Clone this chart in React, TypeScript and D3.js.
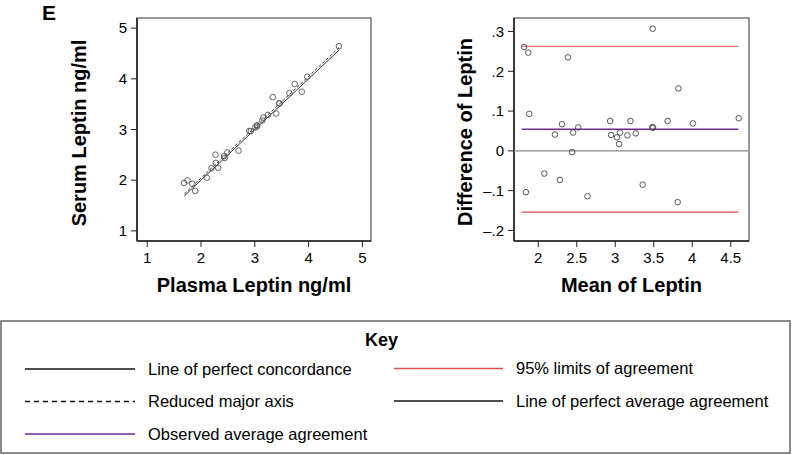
import React from "react";
import * as d3 from "d3";

// Data (plasma vs serum leptin, ng/ml)
const plasma = [1.685, 1.747, 1.892, 1.837, 2.107, 2.196, 2.318, 2.274, 2.268, 2.442, 2.43, 2.489, 2.697, 2.896, 2.926, 3.006, 3.042, 3.039, 3.139, 3.16, 3.244, 3.399, 3.333, 3.452, 3.461, 3.643, 3.741, 3.875, 3.974, 4.563];
const serum = [1.946, 1.994, 1.788, 1.93, 2.05, 2.237, 2.245, 2.341, 2.503, 2.439, 2.476, 2.548, 2.583, 2.971, 2.966, 3.04, 3.059, 3.085, 3.178, 3.235, 3.288, 3.314, 3.64, 3.512, 3.519, 3.718, 3.898, 3.746, 4.043, 4.645];

const leftXTicks = [1, 2, 3, 4, 5];
const leftYTicks = [1, 2, 3, 4, 5];
const rightXTicks = [2, 2.5, 3, 3.5, 4, 4.5];
const rightYTicks = [-0.2, -0.1, 0, 0.1, 0.2, 0.3];

// Reference lines
const concordanceLine = [[1.69, 1.69], [4.57, 4.57]];
const rmaLine = [[1.69, 1.73], [4.57, 4.62]];
const meanDiff = 0.0545;
const upperLimit = 0.263;
const lowerLimit = -0.154;
const limitsXRange = [1.785, 4.6];

const legendLeft = ["Line of perfect concordance", "Reduced major axis", "Observed average agreement"];
const legendRight = ["95% limits of agreement", "Line of perfect average agreement"];

const RED = "#e2504f";
const PURPLE = "#74299a";
const FONT = "'Liberation Sans', Arial, sans-serif";

function fmtDiff(v: number) {
  if (Math.abs(v) < 1e-9) return "0";
  const s = Math.abs(v).toFixed(1).replace(/^0/, "");
  return (v < 0 ? "\u2013" : "") + s;
}

export default function App() {
  const means = plasma.map((p, i) => (p + serum[i]) / 2);
  const diffs = plasma.map((p, i) => serum[i] - p);

  // Left panel
  const L = { left: 137, right: 371, top: 18, bottom: 241 };
  const lx = d3.scaleLinear().domain([0.81, 5.16]).range([L.left, L.right]);
  const ly = d3.scaleLinear().domain([0.8, 5.2]).range([L.bottom, L.top]);
  const line = d3.line<number[]>().x((d) => lx(d[0])).y((d) => ly(d[1]));

  // Right panel
  const R = { left: 514, right: 749, top: 18, bottom: 241 };
  const rx = d3.scaleLinear().domain([1.685, 4.737]).range([R.left, R.right]);
  const ry = d3.scaleLinear().domain([-0.2266, 0.334]).range([R.bottom, R.top]);

  const axisColor = "#222";

  return (
    <svg width={792} height={455} style={{ position: "absolute", left: 0, top: 0, background: "#fff" }} fontFamily={FONT}>
      <rect width={792} height={455} fill="#fff" />
      <text x={42} y={19.5} fontSize={21} fontWeight="bold">E</text>

      {/* Left panel */}
      <rect x={L.left} y={L.top} width={L.right - L.left} height={L.bottom - L.top} fill="none" stroke="#333" strokeWidth={1} />
      <line x1={L.left} x2={L.left} y1={L.top} y2={L.bottom} stroke={axisColor} strokeWidth={1.6} />
      <line x1={L.left} x2={L.right} y1={L.bottom} y2={L.bottom} stroke={axisColor} strokeWidth={1.6} />
      {leftXTicks.map((t) => (
        <g key={"lx" + t}>
          <line x1={lx(t)} x2={lx(t)} y1={L.bottom} y2={L.bottom + 6} stroke={axisColor} />
          <text x={lx(t)} y={263} fontSize={15} textAnchor="middle">{t}</text>
        </g>
      ))}
      {leftYTicks.map((t) => (
        <g key={"ly" + t}>
          <line x1={L.left - 6} x2={L.left} y1={ly(t)} y2={ly(t)} stroke={axisColor} />
          <text x={127} y={ly(t) + 5.3} fontSize={15} textAnchor="end">{t}</text>
        </g>
      ))}
      <path d={line(concordanceLine) || ""} stroke="#333" strokeWidth={1} fill="none" />
      <path d={line(rmaLine) || ""} stroke="#333" strokeWidth={1} strokeDasharray="3,2" fill="none" />
      {plasma.map((p, i) => (
        <circle key={"lp" + i} cx={lx(p)} cy={ly(serum[i])} r={2.8} fill="none" stroke="#555" strokeWidth={0.9} />
      ))}
      <text x={(L.left + L.right) / 2} y={292} fontSize={20} fontWeight="bold" textAnchor="middle">Plasma Leptin ng/ml</text>
      <text transform="translate(86,133) rotate(-90)" fontSize={20} fontWeight="bold" textAnchor="middle">Serum Leptin ng/ml</text>

      {/* Right panel */}
      <rect x={R.left} y={R.top} width={R.right - R.left} height={R.bottom - R.top} fill="none" stroke="#333" strokeWidth={1} />
      <line x1={R.left} x2={R.left} y1={R.top} y2={R.bottom} stroke={axisColor} strokeWidth={1.6} />
      <line x1={R.left} x2={R.right} y1={R.bottom} y2={R.bottom} stroke={axisColor} strokeWidth={1.6} />
      {rightXTicks.map((t) => (
        <g key={"rx" + t}>
          <line x1={rx(t)} x2={rx(t)} y1={R.bottom} y2={R.bottom + 6} stroke={axisColor} />
          <text x={rx(t)} y={263} fontSize={15} textAnchor="middle">{t}</text>
        </g>
      ))}
      {rightYTicks.map((t) => (
        <g key={"ry" + t}>
          <line x1={R.left - 6} x2={R.left} y1={ry(t)} y2={ry(t)} stroke={axisColor} />
          <text x={504} y={ry(t) + 5.3} fontSize={15} textAnchor="end">{fmtDiff(t)}</text>
        </g>
      ))}
      <line x1={R.left} x2={R.right} y1={ry(0)} y2={ry(0)} stroke="#888" strokeWidth={1.2} />
      <line x1={rx(limitsXRange[0])} x2={rx(limitsXRange[1])} y1={ry(upperLimit)} y2={ry(upperLimit)} stroke={RED} strokeWidth={1.2} />
      <line x1={rx(limitsXRange[0])} x2={rx(limitsXRange[1])} y1={ry(lowerLimit)} y2={ry(lowerLimit)} stroke={RED} strokeWidth={1.2} />
      <line x1={rx(limitsXRange[0])} x2={rx(limitsXRange[1])} y1={ry(meanDiff)} y2={ry(meanDiff)} stroke={PURPLE} strokeWidth={1.4} />
      {means.map((m, i) => (
        <circle key={"rp" + i} cx={rx(m)} cy={ry(diffs[i])} r={2.8} fill="none" stroke="#444" strokeWidth={0.9} />
      ))}
      <text x={(R.left + R.right) / 2} y={292} fontSize={20} fontWeight="bold" textAnchor="middle">Mean of Leptin</text>
      <text transform="translate(472,132) rotate(-90)" fontSize={20} fontWeight="bold" textAnchor="middle">Difference of Leptin</text>

      {/* Legend */}
      <rect x={1} y={321} width={789} height={132} fill="none" stroke="#666" strokeWidth={1.5} />
      <text x={365} y={346} fontSize={18} fontWeight="bold">Key</text>
      {legendLeft.map((lab, i) => {
        const y = [369, 401.5, 434][i];
        return (
          <g key={"ll" + i}>
            <line x1={25} x2={135} y1={y} y2={y}
              stroke={i === 2 ? PURPLE : "#111"} strokeWidth={1.3}
              strokeDasharray={i === 1 ? "5,4" : undefined} />
            <text x={148} y={y + 5.8} fontSize={16.5}>{lab}</text>
          </g>
        );
      })}
      {legendRight.map((lab, i) => {
        const y = [368.5, 401][i];
        return (
          <g key={"lr" + i}>
            <line x1={394} x2={503} y1={y} y2={y} stroke={i === 0 ? RED : "#111"} strokeWidth={1.3} />
            <text x={516} y={y + 5.8} fontSize={16.5}>{lab}</text>
          </g>
        );
      })}
    </svg>
  );
}
